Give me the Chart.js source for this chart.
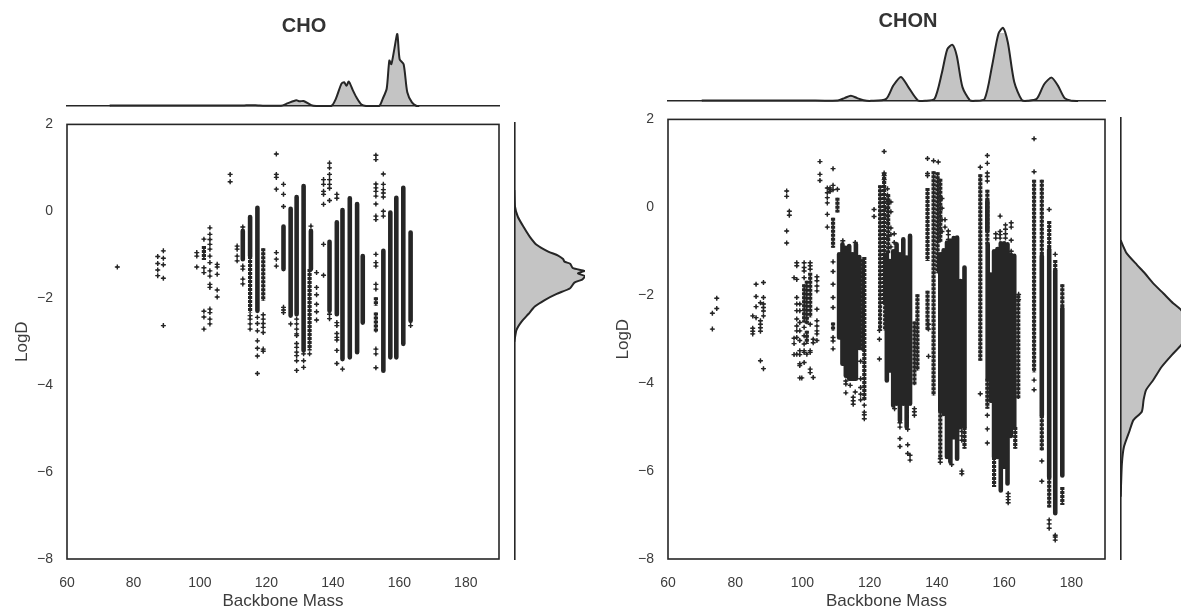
<!DOCTYPE html>
<html>
<head>
<meta charset="utf-8">
<title>LogD vs Backbone Mass</title>
<script src="https://cdn.jsdelivr.net/npm/chart.js@4"></script>
<style>
html, body { margin: 0; background: #fff; overflow: hidden; width: 1181px; height: 610px; }
canvas { position: absolute; filter: blur(0.55px); }
</style>
</head>
<body>
<script>
const massTicks = [60, 80, 100, 120, 140, 160, 180];
const logdTicks = [2, 0, -2, -4, -6, -8];

// [mass, top, bottom] for the columns that print as solid strips
const choSolid = [
    [112.9, -0.45, -1.10], [115.1, -0.13, -1.03], [117.3, 0.08, -2.29], [125.15, -0.35, -1.33],
    [127.3, 0.06, -2.40], [129.1, 0.33, -2.37], [131.2, 0.58, -3.2], [133.4, -0.45, -1.33],
    [139, -0.70, -2.29], [141.2, -0.25, -2.37], [142.9, 0.03, -3.40], [145.1, 0.30, -3.36],
    [147.3, 0.17, -3.24], [149, -1.03, -2.56], [155.2, -0.91, -3.67], [157.3, -0.03, -3.36],
    [159.1, 0.31, -3.36], [161.2, 0.54, -3.05], [163.4, -0.49, -2.52]
];
const choDotted = [
    [101.2, -0.8, -1.12], [115.1, -1.03, -2.33], [119.05, -0.85, -2.06], [133, -1.33, -3.2],
    [152.95, -1.98, -2.17], [152.95, -2.33, -2.79]
];
// [mass, logD, logD, ...] for the loose markers
const choPoints = [
    [75.15, -1.28],
    [87.3, -1.04, -1.20, -1.35, -1.48],
    [89, -0.91, -1.08, -1.23, -1.54, -2.63],
    [99.05, -0.95, -1.03, -1.28],
    [101.2, -0.64, -1.3, -1.41, -2.3, -2.43, -2.71],
    [103, -0.38, -0.53, -0.65, -0.76, -0.87, -1.03, -1.18, -1.37, -1.49, -1.68, -1.75, -2.25, -2.33, -2.48, -2.59],
    [105.2, -1.22, -1.28, -1.45, -1.81, -1.97],
    [109.1, 0.85, 0.68],
    [111.2, -0.80, -0.87, -1.03, -1.14],
    [112.9, -0.36, -1.26, -1.33, -1.56, -1.67],
    [115.1, -2.40, -2.48, -2.59, -2.71],
    [117.3, -2.44, -2.58, -2.75, -2.98, -3.15, -3.33, -3.73],
    [119.05, -2.38, -2.48, -2.58, -2.67, -2.79, -3.17, -3.22],
    [123, 1.32, 0.85, 0.78, 0.51, -0.95, -1.10, -1.26],
    [125.15, 0.62, 0.39, 0.11, -2.21, -2.27, -2.33],
    [127.3, -2.59],
    [129.1, -2.48, -2.59, -2.71, -2.82, -2.86, -3.04, -3.13, -3.24, -3.32, -3.44, -3.66],
    [131.2, -3.28, -3.44, -3.59],
    [133, -3.28],
    [133.4, -0.34],
    [135.1, -1.41, -1.75, -1.92, -2.14, -2.31, -2.50],
    [137.2, 0.73, 0.62, 0.46, 0.39, 0.16, -0.76, -1.47],
    [139, 1.11, 1.0, 0.85, 0.73, 0.62, 0.53, 0.25, -2.37, -2.47],
    [141.2, 0.39, 0.30, -2.56, -2.63, -2.81, -2.9, -2.96, -3.2, -3.5],
    [142.9, -3.63],
    [152.95, 1.29, 1.19, 0.63, 0.54, 0.46, 0.35, 0.17, -0.11, -0.19, -0.99, -1.18, -1.26, -1.68, -1.79, -3.17, -3.28, -3.60],
    [155.2, 0.86, 0.62, 0.50, 0.42, 0.33, 0, -0.11],
    [163.4, -2.63]
];
const choTopKde = [
    [72.8, 0], [73, 0.006], [100, 0.006], [113, 0.006], [115, 0.012], [118, 0.006], [124.4, 0.003],
    [126.5, 0.04], [129, 0.08], [130, 0.065], [131.2, 0.07], [133.5, 0.012], [135, 0],
    [139.5, 0], [140.9, 0.1], [142.6, 0.31], [143.4, 0.33], [144.1, 0.28], [144.8, 0.34],
    [146, 0.22], [147.1, 0.12], [148.6, 0.02], [150, 0],
    [153.9, 0], [155, 0.1], [156.2, 0.24], [157, 0.63], [157.6, 0.58], [158.5, 0.79],
    [159.4, 1], [160.1, 0.65], [161.3, 0.58], [162.4, 0.19], [163.8, 0.05], [165.2, 0], [166, 0]
];
// [logD, density]
const choSideKde = [
    [0.46, 0], [0.08, 0.01], [-0.15, 0.05], [-0.38, 0.13], [-0.61, 0.22], [-0.80, 0.32],
    [-0.95, 0.48], [-1.04, 0.62], [-1.12, 0.69], [-1.18, 0.71], [-1.23, 0.79], [-1.33, 0.83],
    [-1.39, 0.99], [-1.45, 0.90], [-1.51, 1.0], [-1.59, 0.96], [-1.66, 0.85], [-1.79, 0.79],
    [-1.92, 0.60], [-2.06, 0.43], [-2.21, 0.29], [-2.38, 0.20], [-2.56, 0.10], [-2.75, 0.03], [-3.02, 0]
];

const chonSolid = [
    [110.9, -1.07, -2.96], [111.9, -0.84, -3.56], [112.9, -0.92, -3.83], [113.9, -0.88, -3.90],
    [114.9, -1.07, -3.90], [115.9, -0.84, -3.90], [116.9, -1.13, -3.2],
    [125.1, -1.07, -3.94], [126, -1.22, -3.71], [127, -1.0, -4.51], [128, -0.84, -4.47],
    [129, -1.07, -4.85], [130, -0.73, -4.47], [131, -1.14, -5.0], [132, -0.65, -4.47],
    [141, -1.07, -4.62], [142, -0.98, -4.7], [143, -0.8, -5.68], [144, -0.76, -5.79],
    [145, -0.7, -5.23], [146, -0.69, -5.72], [147, -1.68, -5.0], [148.2, -1.37, -5.0],
    [155, 0.14, -0.54], [155.1, -0.84, -3.9], [156, -1.53, -4.4], [157, -1, -5.68], [158, -0.95, -5.68],
    [159, -0.82, -6.44], [160, -0.82, -5.9], [161, -0.84, -6.28], [162, -1.08, -5.2], [163, -1.1, -5.0],
    [171.2, -1.11, -4.73], [173.4, -0.96, -6.13], [175.2, -1.45, -6.96], [177.3, -2.3, -6.1]
];
const chonDotted = [
    [100.5, -1.75, -2.62], [101.3, -1.67, -2.66], [101.3, -2.81, -3.11], [102.3, -1.49, -2.5],
    [109.1, -0.24, -0.92], [110.4, 0.22, -0.12], [109.1, -2.62, -2.81],
    [117.8, -1.18, -3.26], [118.4, -1.13, -4.4],
    [123.1, 0.5, -2.81], [124.3, 0.78, -2.2], [125.5, 0.3, -1.07], [124.6, -1.07, -2.8],
    [133.3, -2.6, -4.05], [134.2, -1.98, -3.71],
    [137.2, 0.44, -1.22], [137.2, -1.9, -2.8], [139, 0.82, -4.28], [140.2, 0.8, -1.5],
    [141, -4.62, -5.72], [141, 0.65, -0.8], [148.2, -5.0, -5.49],
    [152.9, 0.75, -3.49], [155, 0.4, -0.84], [155, -3.9, -4.58], [157, -5.68, -6.36],
    [163.3, -5.0, -5.49], [164.2, -2.0, -4.36],
    [168.9, 0.63, -3.75], [171.2, 0.63, -1.11], [171.2, -4.73, -5.53], [173.4, -0.31, -0.96],
    [173.4, -6.13, -6.83], [175.2, -1.2, -1.45], [177.3, -1.75, -2.3], [177.3, -6.36, -6.77]
];
const chonPoints = [
    [73.2, -2.41, -2.77],
    [74.5, -2.07, -2.30],
    [85.2, -2.47, -2.75, -2.82, -2.88],
    [86.2, -1.75, -2.03, -2.26, -2.51],
    [87.5, -2.17, -2.58, -2.66, -2.74, -2.82, -3.49],
    [88.4, -1.71, -2.05, -2.2, -2.28, -2.36, -2.47, -3.67],
    [95.3, 0.37, 0.25, -0.54, -0.81],
    [96.1, -0.09, -0.18],
    [97.5, -1.6, -2.98, -3.1, -3.35],
    [98.3, -1.26, -1.33, -1.64, -2.05, -2.2, -2.35, -2.54, -2.7, -2.81, -2.96, -3.34],
    [99.2, -2.2, -2.35, -2.62, -2.81, -3.03, -3.26, -3.35, -3.56, -3.6, -3.88],
    [99.8, -3.88],
    [100.5, -1.26, -1.37, -1.45, -1.6, -2.73, -2.92, -3.11, -3.26, -3.3, -3.53],
    [101.3, -3.34],
    [102.3, -1.26, -1.33, -1.41, -2.66, -3.26, -3.3, -3.68, -3.76],
    [103.2, -3.0, -3.08, -3.87],
    [104.3, -1.58, -1.67, -1.79, -1.9, -2.32, -2.58, -2.7, -2.81, -2.88, -3.03],
    [105.2, 1.04, 0.75, 0.61],
    [107.4, 0.44, 0.33, 0.22, 0.1, -0.16, -0.45],
    [108.2, 0.44, 0.4, 0.36],
    [109.1, 0.88, 0.5, 0.4, -1.24, -1.46, -1.75, -2.05, -2.28, -2.96, -3.04, -3.22],
    [110.4, 0.41],
    [112.0, -0.76],
    [112.9, -3.95, -4.02, -4.22],
    [114.2, -4.05],
    [115.1, -4.32, -4.4, -4.48],
    [115.7, -0.8, -4.2],
    [117.3, -3.5, -3.9, -4.1, -4.25, -4.38],
    [118.4, -4.5, -4.66, -4.72, -4.81],
    [121.3, -0.05, -0.21],
    [122.9, -2.8, -3.0, -3.45],
    [124.3, 1.27, 0.78, 0.72, 0.63],
    [125.3, 0.42, 0.28, 0.14, -0.02, -0.2, -0.35, -0.7],
    [126.3, 0.12, -0.1, -0.47, -0.62, -0.9],
    [127.3, -0.8, -0.6],
    [127.4, -4.58],
    [129, -5.26, -5.44, -4.9, -5.0],
    [131.3, -5.4, -5.6, -5.05],
    [132, -5.64, -5.75],
    [133.3, -4.58, -4.65, -4.73],
    [137.5, -2.66, -2.77, -3.39],
    [137.2, 1.11, 0.77, 0.72],
    [139, 1.06],
    [140.4, 1.03],
    [141.5, 0.2, -0.02, -0.28, -0.55],
    [142.4, -0.28, -0.45],
    [143.4, -0.54, -0.62, -0.73],
    [141, -5.72, -5.8],
    [144.4, -5.85],
    [147.4, -5.1, -5.2, -5.3, -6.0, -6.06],
    [152.9, 0.91, -4.24],
    [155, 1.18, 1.0, 0.78, 0.7, 0.6, -4.73, -5.04, -5.36],
    [157.5, -0.7, -0.6],
    [158.8, -0.2, -0.55, -0.62, -0.7],
    [160.4, -0.4, -0.5, -0.6, -0.7],
    [162.1, -0.35, -0.45, -0.75, -1.0],
    [161.2, -6.51, -6.58, -6.65, -6.72],
    [164.3, -1.98, -2.1],
    [163.3, -2.4],
    [168.9, 1.56, 0.81, -3.93, -4.15],
    [171.2, -5.77, -6.23],
    [173.4, -0.05, -7.11, -7.2, -7.3],
    [175.2, -1.07, -7.46, -7.5, -7.57]
];
const chonTopKde = [
    [70, 0], [70.2, 0.006], [101.6, 0.006], [110.5, 0.008], [112.5, 0.04], [114.4, 0.073], [116.3, 0.04], [118.2, 0.01], [120.4, 0.002],
    [124.9, 0.03], [127, 0.21], [129.3, 0.33], [131.5, 0.19], [134.3, 0.01], [136.5, 0.002],
    [139.3, 0.03], [141.5, 0.39], [143.1, 0.71], [144.6, 0.77], [145.9, 0.62], [147.6, 0.19], [149.8, 0.01], [151.4, 0.002],
    [154.2, 0.03], [156.4, 0.48], [158.3, 0.92], [159.7, 1], [161.1, 0.8], [163, 0.26], [165.3, 0.01], [166.9, 0.002],
    [169.7, 0.03], [171.9, 0.23], [174.1, 0.32], [176, 0.21], [178, 0.04], [180.2, 0.002], [182, 0]
];
const chonSideKde = [
    [-0.77, 0], [-0.84, 0.02], [-1.07, 0.10], [-1.33, 0.27], [-1.52, 0.40], [-1.75, 0.54],
    [-1.98, 0.71], [-2.20, 0.87], [-2.35, 1.0], [-2.73, 1.18], [-3.15, 1.0], [-3.37, 0.85],
    [-3.64, 0.68], [-3.94, 0.54], [-4.17, 0.42], [-4.39, 0.38], [-4.66, 0.35], [-4.85, 0.21],
    [-5.08, 0.15], [-5.45, 0.055], [-5.83, 0.02], [-6.36, 0.005], [-6.59, 0]
];

const INK = '#262626';
const TEXT = '#3c3c3c';
const KDE_FILL = 'rgba(38, 38, 38, 0.27)';
const TICK_FONT = { family: '"Liberation Sans", Arial, sans-serif', size: 14 };
const LABEL_FONT = { family: '"Liberation Sans", Arial, sans-serif', size: 17 };
const TITLE_FONT = { family: '"Liberation Sans", Arial, sans-serif', size: 20, weight: 'bold' };

Chart.defaults.animation = false;

function addCanvas(left, top, width, height) {
    const canvas = document.createElement('canvas');
    canvas.width = width;
    canvas.height = height;
    canvas.style.left = left + 'px';
    canvas.style.top = top + 'px';
    document.body.appendChild(canvas);
    return canvas;
}

function columnLine(columns) {
    const out = [];
    columns.forEach(([mass, top, bottom]) => {
        out.push({ x: mass, y: top }, { x: mass, y: bottom }, { x: mass, y: NaN });
    });
    return out;
}

function markerList(rows) {
    const out = [];
    rows.forEach(([mass, ...values]) => values.forEach(v => out.push({ x: mass, y: v })));
    return out;
}

const boxFrame = {
    id: 'boxFrame',
    afterDatasetsDraw(chart) {
        const { left, top, width, height } = chart.chartArea;
        chart.ctx.save();
        chart.ctx.strokeStyle = INK;
        chart.ctx.lineWidth = 1.6;
        chart.ctx.strokeRect(left, top, width, height);
        chart.ctx.restore();
    }
};

function mainPanel(box, solid, dotted, points) {
    const canvas = addCanvas(box.left, box.top, box.width, box.height);
    const markers = markerList(points);
    new Chart(canvas, {
        type: 'scatter',
        data: {
            datasets: [
                { data: columnLine(solid), showLine: true, pointRadius: 0, borderColor: INK, borderWidth: 4.6, borderCapStyle: 'round' },
                { data: columnLine(dotted), showLine: true, pointRadius: 0, borderColor: INK, borderWidth: 4.2, borderDash: [3, 1] },
                { data: columnLine(dotted), showLine: true, pointRadius: 0, borderColor: INK, borderWidth: 1.6 },
                { data: markers, pointStyle: 'cross', pointRadius: 2.5, pointBorderWidth: 1.4, pointBorderColor: INK },
                { data: markers, pointStyle: 'circle', pointRadius: 1.2, pointBorderWidth: 0, pointBackgroundColor: INK }
            ]
        },
        options: {
            responsive: false,
            devicePixelRatio: 1,
            layout: { padding: { top: box.padTop, right: box.padRight } },
            plugins: { legend: { display: false }, tooltip: { enabled: false } },
            scales: {
                x: {
                    min: 60, max: 190,
                    afterBuildTicks: s => { s.ticks = massTicks.map(v => ({ value: v })); },
                    afterFit: s => { s.height = box.bottomSpace; },
                    grid: { display: false },
                    border: { display: false },
                    ticks: { font: TICK_FONT, color: TEXT, padding: 8, maxRotation: 0, autoSkip: false },
                    title: { display: true, text: 'Backbone Mass', font: LABEL_FONT, color: TEXT, padding: { top: 3, bottom: 3 } }
                },
                y: {
                    min: -8, max: 2,
                    afterBuildTicks: s => { s.ticks = logdTicks.map(v => ({ value: v })); },
                    afterFit: s => { s.width = box.leftSpace; },
                    grid: { display: false },
                    border: { display: false },
                    ticks: { font: TICK_FONT, color: TEXT, padding: 6, autoSkip: false, callback: v => String(v).replace('-', '\u2212') },
                    title: { display: true, text: 'LogD', font: LABEL_FONT, color: TEXT, padding: { top: box.labelPad, bottom: box.labelPad } }
                }
            }
        },
        plugins: [boxFrame]
    });
}

// the hidden y axes hold the plot inside the canvas so the title can center on the whole canvas
function topPanel(box, kde, title) {
    const canvas = addCanvas(box.left, 0, box.width, box.height);
    const blankAxis = (side, space) => ({
        position: side,
        min: 0, max: box.yMax,
        afterFit: s => { s.width = space; },
        grid: { display: false },
        border: { display: false },
        ticks: { display: false }
    });
    new Chart(canvas, {
        type: 'scatter',
        data: {
            datasets: [{
                data: kde.map(([x, y]) => ({ x, y })),
                showLine: true, pointRadius: 0, tension: 0.25, clip: false,
                borderColor: INK, borderWidth: 2, fill: 'origin', backgroundColor: KDE_FILL
            }]
        },
        options: {
            responsive: false,
            devicePixelRatio: 1,
            layout: { padding: { bottom: 4 } },
            plugins: {
                legend: { display: false },
                tooltip: { enabled: false },
                title: { display: true, text: title, color: '#333', font: TITLE_FONT, padding: { top: box.titleTop, bottom: 0 } }
            },
            scales: {
                x: {
                    min: 60, max: 190,
                    afterFit: s => { s.height = 0; },
                    grid: { display: false },
                    border: { display: true, color: INK, width: 1.6 },
                    ticks: { display: false }
                },
                y: blankAxis('left', box.padLeft),
                yRight: blankAxis('right', box.padRight)
            }
        }
    });
}

function sidePanel(box, kde) {
    const canvas = addCanvas(box.left, box.top, box.width, box.height);
    new Chart(canvas, {
        type: 'scatter',
        data: {
            datasets: [{
                data: kde.map(([y, x]) => ({ x, y })),
                showLine: true, pointRadius: 0, tension: 0.2,
                borderColor: INK, borderWidth: 2, fill: 'shape', backgroundColor: KDE_FILL
            }]
        },
        options: {
            responsive: false,
            devicePixelRatio: 1,
            layout: { padding: { left: box.padLeft, right: box.padRight, top: box.padTop, bottom: box.padBottom } },
            plugins: { legend: { display: false }, tooltip: { enabled: false } },
            scales: {
                x: { min: 0, max: 1, display: false },
                y: {
                    min: -8, max: 2,
                    afterFit: s => { s.width = 0; },
                    grid: { display: false },
                    border: { display: true, color: INK, width: 1.6 },
                    ticks: { display: false }
                }
            }
        }
    });
}

// left figure: CHO
topPanel({ left: 0, width: 608, height: 110, padLeft: 67, padRight: 109, titleTop: 14, yMax: 0.944 }, choTopKde, 'CHO');
mainPanel({ left: 0, top: 110, width: 510, height: 505, padTop: 6, padRight: 11, bottomSpace: 56, leftSpace: 67, labelPad: 12 }, choSolid, choDotted, choPoints);
sidePanel({ left: 505, top: 110, width: 90, height: 462, padLeft: 9.3, padRight: 10, padTop: 13, padBottom: 13 }, choSideKde);

// right figure: CHON
topPanel({ left: 635, width: 546, height: 105, padLeft: 33, padRight: 76, titleTop: 9, yMax: 0.931 }, chonTopKde, 'CHON');
mainPanel({ left: 600, top: 105, width: 515, height: 510, padTop: 6, padRight: 10, bottomSpace: 56, leftSpace: 68, labelPad: 13 }, chonSolid, chonDotted, chonPoints);
sidePanel({ left: 1110, top: 105, width: 71, height: 467, padLeft: 10.7, padRight: 0, padTop: 13, padBottom: 13 }, chonSideKde);
</script>
</body>
</html>
